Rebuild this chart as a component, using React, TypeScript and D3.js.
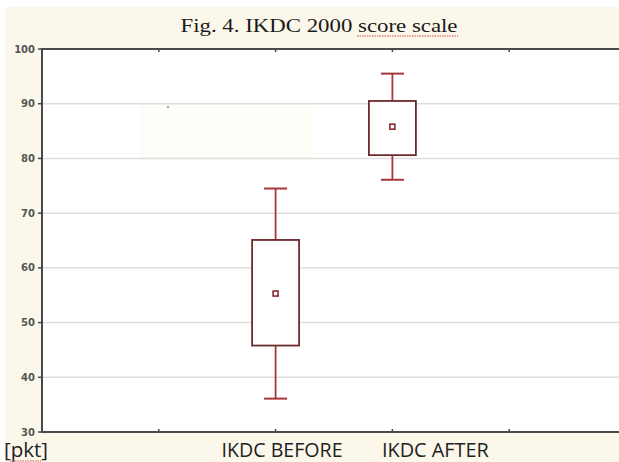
import * as d3 from 'd3';
import React, { useEffect, useRef } from 'react';

const categories = ['IKDC BEFORE', 'IKDC AFTER'];
const categorySlots = [2, 3];
const medians = [55.3, 85.8];
const q1 = [45.8, 80.6];
const q3 = [65.1, 90.5];
const whiskerLow = [36.1, 76.1];
const whiskerHigh = [74.5, 95.5];
const yTicks = [30, 40, 50, 60, 70, 80, 90, 100];
const xTickSlots = [1, 2, 3, 4];

const W = 619;
const H = 462;

const App: React.FC = () => {
  const ref = useRef<SVGSVGElement | null>(null);

  useEffect(() => {
    if (!ref.current) return;
    const svg = d3.select(ref.current);
    svg.selectAll('*').remove();

    const plot = { left: 42, top: 49, bottom: 432, right: 626 };

    const xScale = d3.scaleLinear().domain([0, 5]).range([plot.left, plot.right]);
    const yScale = d3.scaleLinear().domain([30, 100]).range([plot.bottom, plot.top]);

    // page + cream frame
    svg.append('rect').attr('width', W).attr('height', H).attr('fill', '#ffffff');
    svg.append('rect').attr('x', 5).attr('y', 7).attr('width', W - 5).attr('height', H - 7).attr('fill', '#fcf7eb');

    // plot background
    svg
      .append('rect')
      .attr('x', plot.left)
      .attr('y', plot.top)
      .attr('width', plot.right - plot.left)
      .attr('height', plot.bottom - plot.top)
      .attr('fill', '#ffffff');
    // faint leftover patch from the scan
    svg.append('rect').attr('x', 140).attr('y', 101).attr('width', 173).attr('height', 60).attr('fill', '#fffdf8');
    svg.append('circle').attr('cx', 168).attr('cy', 107).attr('r', 1).attr('fill', '#888');

    // grid
    svg
      .append('g')
      .selectAll('line')
      .data(yTicks.filter((t) => t > 30 && t < 100))
      .enter()
      .append('line')
      .attr('x1', plot.left)
      .attr('x2', plot.right)
      .attr('y1', (d) => yScale(d))
      .attr('y2', (d) => yScale(d))
      .attr('stroke', '#dedede')
      .attr('stroke-width', 1.5);

    // frame
    const frame = svg.append('g').attr('stroke', '#4a4a4a').attr('stroke-width', 2).attr('fill', 'none');
    frame.append('line').attr('x1', plot.left).attr('x2', plot.right).attr('y1', plot.top).attr('y2', plot.top);
    frame.append('line').attr('x1', plot.left).attr('x2', plot.right).attr('y1', plot.bottom).attr('y2', plot.bottom);
    frame.append('line').attr('x1', plot.left).attr('x2', plot.left).attr('y1', plot.top - 1).attr('y2', plot.bottom + 1);

    // y ticks + labels
    const yAxis = svg.append('g');
    yAxis
      .selectAll('line')
      .data(yTicks)
      .enter()
      .append('line')
      .attr('x1', plot.left - 4)
      .attr('x2', plot.left)
      .attr('y1', (d) => yScale(d))
      .attr('y2', (d) => yScale(d))
      .attr('stroke', '#4a4a4a')
      .attr('stroke-width', 1.5);
    yAxis
      .selectAll('text')
      .data(yTicks)
      .enter()
      .append('text')
      .attr('x', plot.left - 7)
      .attr('y', (d) => yScale(d))
      .attr('dy', '0.35em')
      .attr('text-anchor', 'end')
      .attr('font-family', 'DejaVu Sans, sans-serif')
      .attr('font-size', 10)
      .attr('font-weight', 600)
      .attr('fill', '#555')
      .text((d) => d);

    // x ticks (inward, top and bottom)
    const xAxis = svg.append('g').attr('stroke', '#4a4a4a').attr('stroke-width', 1.5);
    xTickSlots.forEach((s) => {
      xAxis.append('line').attr('x1', xScale(s)).attr('x2', xScale(s)).attr('y1', plot.bottom).attr('y2', plot.bottom - 3);
      xAxis.append('line').attr('x1', xScale(s)).attr('x2', xScale(s)).attr('y1', plot.top).attr('y2', plot.top + 3);
    });

    // boxes
    const boxW = 47;
    const capW = 23;
    const boxes = svg.append('g');
    categories.forEach((cat, i) => {
      const cx = xScale(categorySlots[i]);
      const g = boxes.append('g');
      const whisker = '#a8363a';
      g.append('line').attr('x1', cx).attr('x2', cx).attr('y1', yScale(q3[i])).attr('y2', yScale(whiskerHigh[i])).attr('stroke', whisker).attr('stroke-width', 1.8);
      g.append('line').attr('x1', cx).attr('x2', cx).attr('y1', yScale(q1[i])).attr('y2', yScale(whiskerLow[i])).attr('stroke', whisker).attr('stroke-width', 1.8);
      g.append('line').attr('x1', cx - capW / 2).attr('x2', cx + capW / 2).attr('y1', yScale(whiskerHigh[i])).attr('y2', yScale(whiskerHigh[i])).attr('stroke', whisker).attr('stroke-width', 2);
      g.append('line').attr('x1', cx - capW / 2).attr('x2', cx + capW / 2).attr('y1', yScale(whiskerLow[i])).attr('y2', yScale(whiskerLow[i])).attr('stroke', whisker).attr('stroke-width', 2);
      g.append('rect')
        .attr('x', cx - boxW / 2)
        .attr('y', yScale(q3[i]))
        .attr('width', boxW)
        .attr('height', yScale(q1[i]) - yScale(q3[i]))
        .attr('fill', '#ffffff')
        .attr('stroke', '#6e2b2e')
        .attr('stroke-width', 1.8);
      g.append('rect')
        .attr('x', cx - 2.5)
        .attr('y', yScale(medians[i]) - 2.5)
        .attr('width', 5)
        .attr('height', 5)
        .attr('fill', '#ffffff')
        .attr('stroke', '#8a2a30')
        .attr('stroke-width', 1.6);
    });

    // category labels
    const labelOffsets = [6.5, 43];
    const labelWidths = [121, 107];
    categories.forEach((cat, i) => {
      svg
        .append('text')
        .attr('x', xScale(categorySlots[i]) + labelOffsets[i])
        .attr('y', 457)
        .attr('text-anchor', 'middle')
        .attr('font-family', 'Liberation Sans Narrow, Open Sans, sans-serif')
        .attr('font-size', 20)
        .attr('fill', '#222')
        .attr('textLength', labelWidths[i])
        .attr('lengthAdjust', 'spacingAndGlyphs')
        .text(cat);
    });

    // unit label
    svg
      .append('text')
      .attr('x', 4)
      .attr('y', 457)
      .attr('font-family', 'Liberation Sans Narrow, Open Sans, sans-serif')
      .attr('font-size', 20)
      .attr('fill', '#222')
      .attr('textLength', 44)
      .attr('lengthAdjust', 'spacingAndGlyphs')
      .text('[pkt]');
    svg.append('line').attr('x1', 10).attr('x2', 41).attr('y1', 461).attr('y2', 461).attr('stroke', '#d04848').attr('stroke-width', 1).attr('stroke-dasharray', '1.5,1');

    // title
    svg
      .append('text')
      .attr('x', 319)
      .attr('y', 32)
      .attr('text-anchor', 'middle')
      .attr('font-family', 'Liberation Serif, serif')
      .attr('font-size', 19)
      .attr('fill', '#1a1a1a')
      .attr('textLength', 277)
      .attr('lengthAdjust', 'spacingAndGlyphs')
      .text('Fig. 4. IKDC 2000 score scale');
    svg.append('line').attr('x1', 357).attr('x2', 458).attr('y1', 36).attr('y2', 36).attr('stroke', '#d04848').attr('stroke-width', 1).attr('stroke-dasharray', '1.5,1');
  }, []);

  return (
    <svg
      ref={ref}
      width={W}
      height={H}
      style={{ position: 'absolute', left: 0, top: 0, display: 'block' }}
    />
  );
};

export default App;
